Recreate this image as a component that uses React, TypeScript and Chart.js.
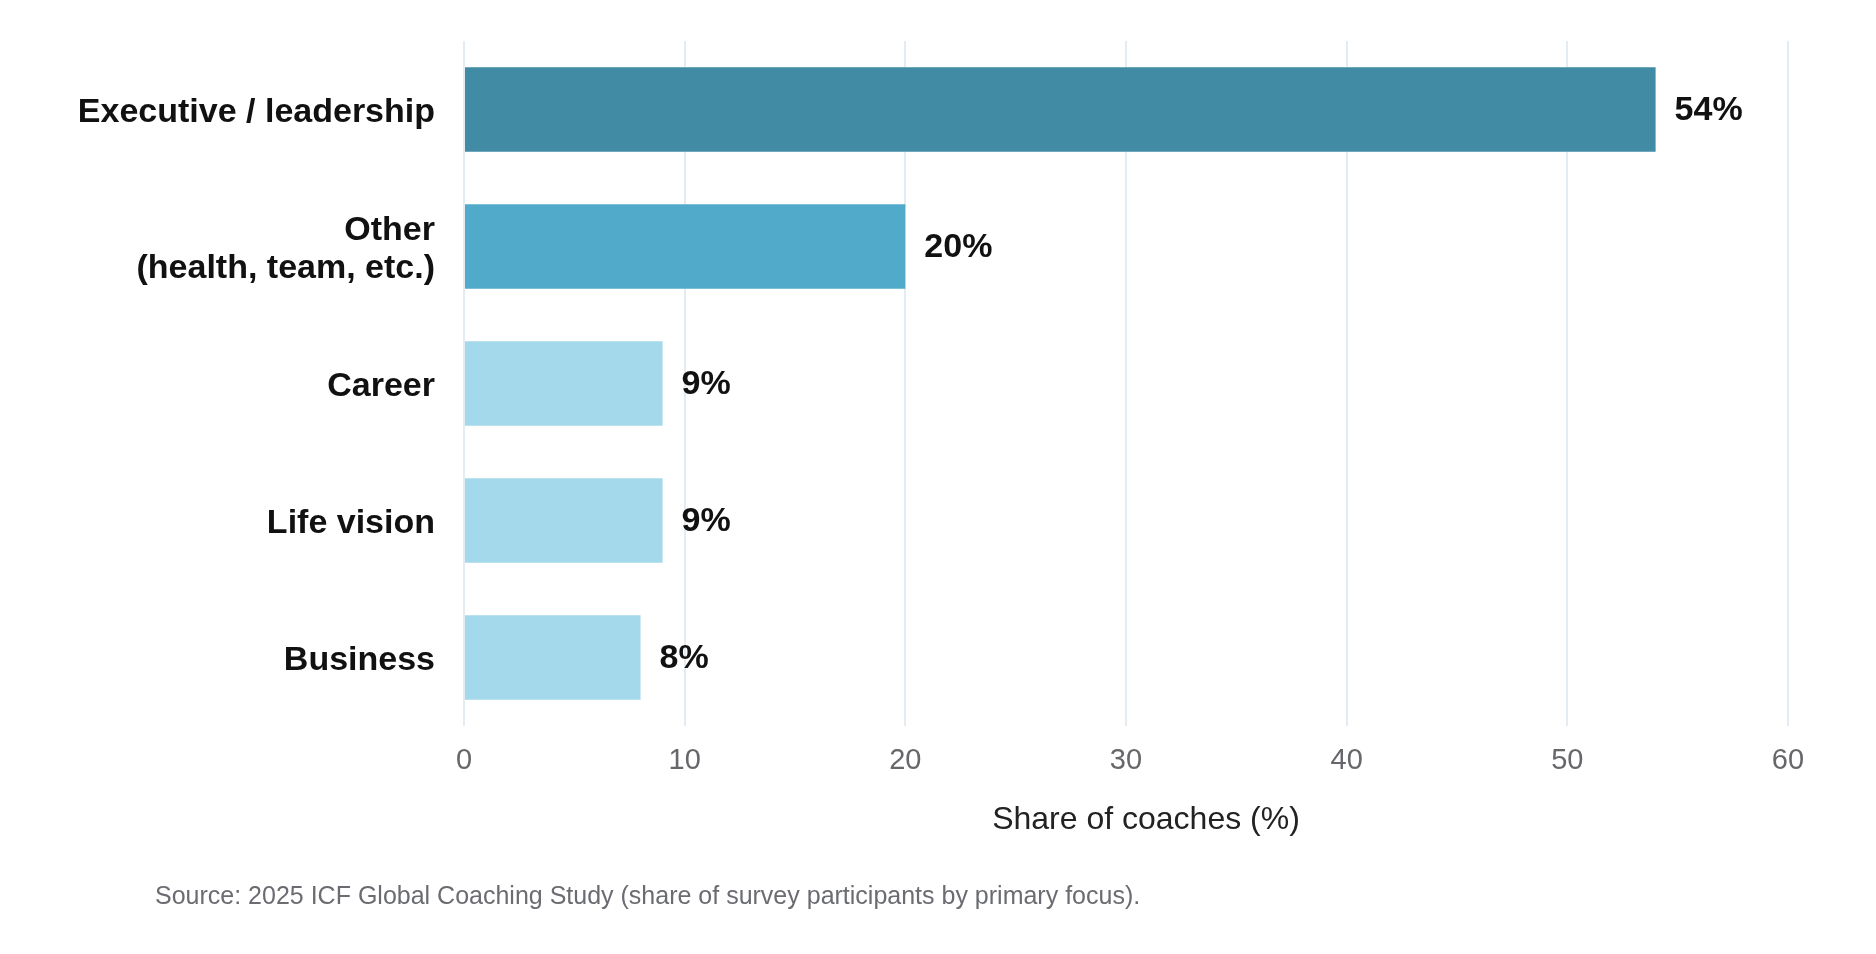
import { useEffect, useRef } from "react";
import { Chart, registerables, type Plugin } from "chart.js";

Chart.register(...registerables);

const categories: (string | string[])[] = [
  "Executive / leadership",
  ["Other", "(health, team, etc.)"],
  "Career",
  "Life vision",
  "Business",
];
const shares = [54, 20, 9, 9, 8];
const barColors = ["#418ba4", "#52aacb", "#a3d9ea", "#a3d9ea", "#a3d9ea"];
const xTicks = [0, 10, 20, 30, 40, 50, 60];
const xTitle = "Share of coaches (%)";
const sourceNote =
  "Source: 2025 ICF Global Coaching Study (share of survey participants by primary focus).";

const FONT = "'Liberation Sans', Arial, Helvetica, sans-serif";

// "54%" etc. just past the end of each bar
const valueLabels: Plugin<"bar"> = {
  id: "valueLabels",
  afterDatasetsDraw(chart) {
    const { ctx } = chart;
    const meta = chart.getDatasetMeta(0);
    ctx.save();
    ctx.font = `bold 34px ${FONT}`;
    ctx.fillStyle = "#111111";
    ctx.textAlign = "left";
    ctx.textBaseline = "middle";
    meta.data.forEach((bar, i) => {
      const { x, y } = bar.getProps(["x", "y"], true);
      ctx.fillText(`${shares[i]}%`, x + 19, y + 1);
    });
    ctx.restore();
  },
};

// axis title sits a little right of the plot centre in the original
const axisTitle: Plugin<"bar"> = {
  id: "axisTitle",
  afterDraw(chart) {
    const { ctx, chartArea } = chart;
    ctx.save();
    ctx.font = `32px ${FONT}`;
    ctx.fillStyle = "#222222";
    ctx.textAlign = "center";
    ctx.textBaseline = "middle";
    ctx.fillText(xTitle, (chartArea.left + chartArea.right) / 2 + 20, chartArea.bottom + 94);
    ctx.restore();
  },
};

export default function App() {
  const canvasRef = useRef<HTMLCanvasElement>(null);

  useEffect(() => {
    document.body.style.margin = "0";
    if (!canvasRef.current) return;
    const chart = new Chart(canvasRef.current, {
      type: "bar",
      data: {
        labels: categories,
        datasets: [
          {
            data: shares,
            backgroundColor: barColors,
            borderWidth: 0,
            categoryPercentage: 1,
            barPercentage: 0.617,
          },
        ],
      },
      options: {
        indexAxis: "y",
        animation: false,
        responsive: false,
        devicePixelRatio: 1,
        layout: { padding: { top: 41, right: 88, bottom: 115, left: 0 } },
        plugins: {
          legend: { display: false },
          tooltip: { enabled: false },
        },
        scales: {
          x: {
            min: 0,
            max: 60,
            afterBuildTicks: (scale) => {
              scale.ticks = xTicks.map((value) => ({ value }));
            },
            grid: { color: "#e4ebf1", lineWidth: 2, drawTicks: false },
            border: { display: false },
            ticks: {
              padding: 18,
              color: "#66676b",
              font: { family: FONT, size: 29 },
            },
            afterFit: (scale) => {
              scale.height = 113;
            },
          },
          y: {
            grid: { display: false, drawTicks: false },
            border: { display: false },
            ticks: {
              padding: 29,
              labelOffset: 3,
              color: "#111111",
              font: { family: FONT, size: 34, weight: "bold", lineHeight: 1.1 },
            },
            afterFit: (scale) => {
              scale.width = 464;
              scale.paddingTop = 0;
              scale.paddingBottom = 0;
            },
          },
        },
      },
      plugins: [valueLabels, axisTitle],
    });
    return () => chart.destroy();
  }, []);

  return (
    <div style={{ position: "relative", width: 1876, height: 954, background: "#ffffff" }}>
      <canvas ref={canvasRef} width={1876} height={954} style={{ display: "block" }} />
      <div
        style={{
          position: "absolute",
          left: 155,
          top: 881,
          fontFamily: FONT,
          fontSize: 25,
          color: "#6b6c72",
          whiteSpace: "nowrap",
        }}
      >
        {sourceNote}
      </div>
    </div>
  );
}
